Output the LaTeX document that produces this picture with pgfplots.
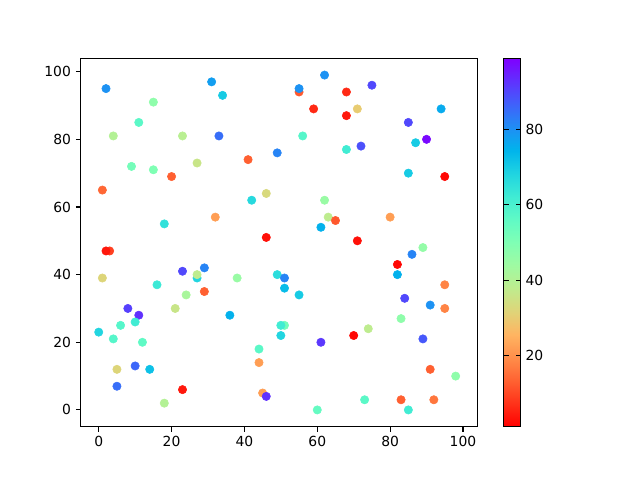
\documentclass[border=0pt]{standalone}
\usepackage{fontspec}
\setmainfont{DejaVu Sans}
\usepackage{pgfplots}
\pgfplotsset{compat=1.18}
\usepackage{pgfplotstable}
\pgfplotsset{/pgf/number format/assume math mode=true}

% matplotlib rainbow_r, sampled at 17 points
\pgfplotsset{colormap={rainbowr}{
  rgb=(1,0,0) rgb=(1,0.195,0.098) rgb=(1,0.383,0.195) rgb=(1,0.556,0.290)
  rgb=(1,0.707,0.383) rgb=(0.875,0.831,0.471) rgb=(0.75,0.924,0.556)
  rgb=(0.625,0.981,0.634) rgb=(0.5,1,0.707) rgb=(0.375,0.981,0.773)
  rgb=(0.25,0.924,0.831) rgb=(0.125,0.831,0.882) rgb=(0,0.707,0.924)
  rgb=(0.125,0.556,0.957) rgb=(0.25,0.383,0.981) rgb=(0.375,0.195,0.995)
  rgb=(0.5,0,1)}}

\pgfplotstableread{
x y c
2 95 80
15 91 47
11 85 57
4 81 40
23 81 39
31 97 78
34 93 70
33 81 85
9 72 52
15 71 50
20 69 13
27 73 36
41 74 13
49 76 82
1 65 14
46 64 33
42 62 67
32 57 22
18 55 65
46 51 3
3 47 9
2 47 4
55 94 12
62 99 80
55 95 80
75 96 90
68 94 6
59 89 6
68 87 4
71 89 30
94 89 76
85 85 90
56 81 58
90 80 98
87 79 70
68 77 62
72 78 89
85 70 70
95 69 2
62 62 45
63 57 38
65 56 12
80 57 22
61 54 75
71 50 3
89 48 46
86 46 82
1 39 32
23 41 90
29 42 82
27 39 68
27 40 38
16 37 63
24 34 42
29 35 13
38 39 45
21 30 36
8 30 91
11 28 93
36 28 75
0 23 68
6 25 58
10 26 62
4 21 58
12 20 56
5 12 32
10 13 86
14 12 72
5 7 85
23 6 4
18 2 40
44 18 57
44 14 22
45 5 22
46 4 93
49 40 66
82 43 2
82 40 75
51 39 82
51 36 73
55 34 70
95 37 18
84 33 90
91 31 80
95 30 18
83 27 47
51 25 52
50 25 62
50 22 68
74 24 38
70 22 2
61 20 92
89 21 88
91 12 13
98 10 47
73 3 57
83 3 13
92 3 16
60 0 55
85 0 62
}\pts

\begin{document}
\begin{tikzpicture}
  \path[use as bounding box] (-58.1pt,-38.4pt) rectangle (402.7pt,307.2pt);
  \begin{axis}[
    at={(0,0)}, anchor=south west,
    scale only axis, width=285.6pt, height=265.2pt,
    xmin=-4.95, xmax=103.95, ymin=-4.95, ymax=103.95,
    xtick={0,20,...,100}, ytick={0,20,...,100},
    axis x line*=bottom, axis y line*=left,
    axis line style={black, line width=0.8pt, -},
    tick align=outside, major tick length=3.5pt,
    tick style={black, line width=0.8pt},
    colormap name=rainbowr,
    point meta min=1, point meta max=99,
    colorbar,
    colorbar style={
      at={(parent axis.north east)}, anchor=north west,
      xshift=10.5pt, width=12.2pt,
      ytick={20,40,60,80},
      major tick length=3.5pt,
      tick style={black, line width=0.8pt},
      axis line style={line width=0.8pt},
    },
  ]
    \addplot[scatter, only marks, mark=*, mark size=3pt,
      scatter/use mapped color={draw=mapped color, fill=mapped color},
      point meta=explicit] table[x=x, y=y, meta=c] {\pts};
  \end{axis}
  \draw[black, line width=0.8pt] (0,265.2pt) -- (285.6pt,265.2pt) -- (285.6pt,0);
\end{tikzpicture}
\end{document}
